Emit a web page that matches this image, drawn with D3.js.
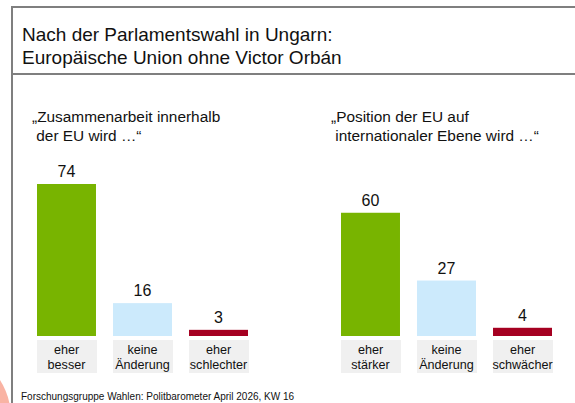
<!DOCTYPE html>
<html lang="de">
<head>
<meta charset="UTF-8">
<title>Politbarometer Ungarn</title>
<script src="https://d3js.org/d3.v7.min.js"></script>
<style>
  body { margin: 0; background: #fff; }
  svg { display: block; font-family: "Liberation Sans", Arial, sans-serif; }
</style>
</head>
<body>
<svg width="575" height="403"></svg>
<script>
// data
const leftCategories = ["eher besser", "keine Änderung", "eher schlechter"];
const leftValues = [74, 16, 3];
const rightCategories = ["eher stärker", "keine Änderung", "eher schwächer"];
const rightValues = [60, 27, 4];
const barColors = ["#78b400", "#cceafc", "#a50021"];
const leftQuestion = ["„Zusammenarbeit innerhalb", " der EU wird …“"];
const rightQuestion = ["„Position der EU auf", " internationaler Ebene wird …“"];
const titleLines = ["Nach der Parlamentswahl in Ungarn:", "Europäische Union ohne Victor Orbán"];
const source = "Forschungsgruppe Wahlen: Politbarometer April 2026, KW 16";

const svg = d3.select("svg");

// logo circle peeking in at bottom-left
svg.append("circle")
  .attr("cx", -60).attr("cy", 418).attr("r", 71)
  .attr("fill", "#f9b3a3");

// frame
const frame = svg.append("g").attr("stroke", "#7f7f7f").attr("stroke-width", 2);
frame.append("line").attr("x1", 12).attr("x2", 575).attr("y1", 7).attr("y2", 7);
frame.append("line").attr("x1", 12).attr("x2", 575).attr("y1", 74).attr("y2", 74);
frame.append("line").attr("x1", 12).attr("x2", 12).attr("y1", 6).attr("y2", 403);

// title
svg.append("g").selectAll("text")
  .data(titleLines)
  .join("text")
  .attr("x", 22)
  .attr("y", (d, i) => 41 + i * 23)
  .attr("font-size", 19)
  .attr("fill", "#111")
  .text(d => d);

// shared y scale, bars sit on y=336
const baseY = 336;
const y = d3.scaleLinear().domain([0, 74]).range([baseY, 184]);

function drawPanel(categories, values, question, x0, qx) {
  const g = svg.append("g");
  const x = d3.scaleBand()
    .domain(categories)
    .range([x0, x0 + 211])
    .paddingInner(0.224)
    .paddingOuter(0);

  g.selectAll("text.q")
    .data(question)
    .join("text")
    .attr("class", "q")
    .attr("x", qx)
    .attr("y", (d, i) => 122 + i * 18.5)
    .attr("font-size", 15.4)
    .attr("fill", "#111")
    .style("white-space", "pre")
    .text(d => d);

  const data = categories.map((c, i) => ({ cat: c, val: values[i], color: barColors[i] }));

  g.selectAll("rect.bar")
    .data(data)
    .join("rect")
    .attr("class", "bar")
    .attr("x", d => x(d.cat))
    .attr("width", x.bandwidth())
    .attr("y", d => y(d.val))
    .attr("height", d => baseY - y(d.val))
    .attr("fill", d => d.color);

  g.selectAll("text.val")
    .data(data)
    .join("text")
    .attr("class", "val")
    .attr("x", d => x(d.cat) + x.bandwidth() / 2)
    .attr("y", d => y(d.val) - 7)
    .attr("text-anchor", "middle")
    .attr("font-size", 16)
    .attr("fill", "#111")
    .text(d => d.val);

  // category label boxes
  g.selectAll("rect.lab")
    .data(data)
    .join("rect")
    .attr("class", "lab")
    .attr("x", d => x(d.cat))
    .attr("width", x.bandwidth() + 1)
    .attr("y", baseY + 4)
    .attr("height", 33)
    .attr("fill", "#f0f0f0");

  const labels = g.selectAll("text.lab")
    .data(data)
    .join("text")
    .attr("class", "lab")
    .attr("text-anchor", "middle")
    .attr("font-size", 12.6)
    .attr("fill", "#111");
  labels.selectAll("tspan")
    .data(d => d.cat.split(" ").map((t, i) => ({ t, cx: x(d.cat) + x.bandwidth() / 2, i })))
    .join("tspan")
    .attr("x", p => p.cx)
    .attr("y", p => baseY + 18 + p.i * 15)
    .text(p => p.t);
}

drawPanel(leftCategories, leftValues, leftQuestion, 37, 32);
drawPanel(rightCategories, rightValues, rightQuestion, 341, 331);

// source
svg.append("text")
  .attr("x", 21)
  .attr("y", 400)
  .attr("font-size", 10)
  .attr("fill", "#111")
  .text(source);
</script>
</body>
</html>
